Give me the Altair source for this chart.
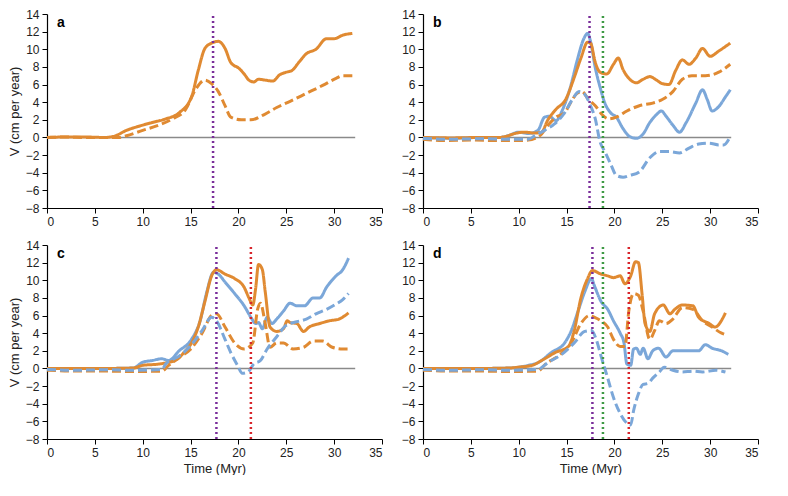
import altair as alt
import pandas as pd

ORANGE = "#E08A32"
BLUE = "#7BA7D9"
PURPLE = "#7A2E9A"
GREEN = "#3E9A44"
RED = "#D8262C"

# ---- panel a ----
a_os_t = [0, 2, 4, 6, 6.9, 8.3, 10, 11, 12.4, 13.8, 15.1, 15.8, 16.5, 17.2, 17.9, 18.6, 19.2, 20.1, 20.6, 21.1, 21.6, 22.1, 22.8, 23.6, 24.3, 25, 25.6, 26.3, 27.1, 28.1, 29.2, 30, 30.9, 31.9]
a_os_v = [0, 0.05, 0.05, 0, 0.1, 0.8, 1.4, 1.7, 2.1, 2.8, 4.6, 7.6, 10.1, 10.7, 10.9, 10.1, 8.5, 7.8, 7.2, 6.5, 6.3, 6.6, 6.5, 6.4, 7.1, 7.4, 7.6, 8.5, 9.5, 10.0, 11.2, 11.2, 11.6, 11.8]
a_od_t = [0, 2, 4, 6, 7.5, 8.3, 10, 11.7, 13.1, 14.5, 15.5, 16.5, 17.2, 17.9, 18.6, 19.2, 20.3, 21.3, 22.7, 24, 25.4, 27.1, 28.8, 30.2, 30.9, 31.9]
a_od_v = [0, 0.05, 0, 0, 0, 0.2, 0.8, 1.4, 2.1, 3.2, 5.4, 6.5, 6.1, 5.2, 3.6, 2.3, 2.0, 2.0, 2.6, 3.4, 4.1, 5.0, 5.9, 6.7, 7.0, 7.0]

# ---- panel b ----
b_os_t = [0, 3, 6, 8, 8.6, 9.6, 10.6, 11.7, 12.4, 13, 13.9, 14.9, 15.8, 16.5, 17.2, 17.5, 18, 18.5, 19.2, 19.9, 20.4, 20.9, 21.6, 22.3, 23, 23.7, 24.4, 25, 25.7, 26.4, 27.1, 27.8, 28.5, 29.2, 30, 30.9, 32.1]
b_os_v = [0, -0.05, 0, 0, 0.1, 0.45, 0.6, 0.5, 0.6, 1.9, 3.2, 4.3, 6.8, 9.0, 10.8, 10.7, 8.5, 7.4, 7.2, 8.3, 9.0, 7.7, 6.6, 6.2, 6.6, 6.9, 6.5, 6.1, 6.0, 7.6, 8.8, 8.3, 9.0, 10.1, 9.2, 9.8, 10.7]
b_bs_t = [0, 3, 6, 8, 8.9, 10, 11, 12, 12.7, 13.2, 13.9, 14.6, 15.4, 16.1, 16.8, 17.2, 17.5, 18, 18.5, 19, 19.6, 20.2, 20.9, 21.6, 22.3, 23, 23.7, 24.4, 24.9, 25.4, 26.1, 26.8, 27.5, 28.5, 29.2, 29.7, 30.2, 30.9, 31.6, 32.1]
b_bs_v = [0, -0.1, 0, 0, 0.2, 0.6, 0.45, 0.8, 2.3, 2.4, 1.9, 3.2, 5.7, 8.7, 11.2, 11.8, 10.9, 7.9, 5.7, 3.9, 2.8, 2.3, 1.0, 0.1, -0.1, 0.4, 1.7, 2.6, 3.0, 2.4, 1.4, 0.6, 1.7, 3.9, 5.4, 4.3, 3.0, 3.5, 4.6, 5.4]
b_od_t = [0, 2, 5, 8, 10, 11, 11.7, 12.4, 13, 13.9, 14.8, 15.4, 16.1, 16.6, 17.3, 18, 18.7, 19.4, 20.2, 21.3, 22.6, 24, 25, 26.1, 27.1, 28.1, 29.5, 30.9, 32.1]
b_od_v = [-0.2, -0.35, -0.3, -0.35, -0.35, -0.3, -0.1, 0.4, 1.3, 2.3, 2.8, 3.9, 5.0, 5.2, 4.3, 3.6, 2.6, 2.1, 2.3, 3.0, 3.6, 3.9, 4.3, 5.2, 6.6, 7.0, 7.0, 7.4, 8.3]
b_bd_t = [0, 3, 6, 9, 11, 11.7, 12.7, 13.7, 14.8, 15.6, 16.3, 16.8, 17.5, 18, 18.5, 19, 19.6, 20.2, 20.9, 21.6, 22.6, 23.7, 24.7, 25.7, 26.8, 27.8, 28.8, 29.9, 30.9, 31.4, 32.1]
b_bd_v = [-0.1, -0.2, -0.15, -0.2, -0.2, 0.2, 0.8, 1.5, 2.8, 4.3, 5.2, 5.0, 3.6, 2.1, -0.5, -1.6, -3.0, -4.3, -4.5, -4.3, -3.9, -2.3, -1.6, -1.6, -1.75, -1.2, -0.75, -0.65, -0.85, -0.85, 0.1]

# ---- panel c ----
c_os_t = [0, 3, 6, 9, 10, 11.7, 12.7, 13.4, 14.3, 15.1, 15.8, 16.5, 17.2, 17.7, 18.6, 19.6, 20.6, 21.1, 21.5, 21.8, 22.1, 22.5, 22.8, 23.3, 24, 24.7, 25.1, 25.4, 26.1, 26.8, 27.4, 28.5, 29.5, 30.5, 31.5]
c_os_v = [0, 0, 0, 0.05, 0.35, 0.5, 0.7, 0.9, 1.8, 2.9, 4.7, 7.6, 10.5, 11.2, 10.7, 10.2, 9.2, 8.0, 7.2, 9.1, 11.8, 11.2, 8.7, 4.7, 4.2, 4.5, 5.4, 5.2, 5.1, 4.2, 4.7, 5.1, 5.4, 5.6, 6.3]
c_bs_t = [0, 3, 6, 9, 10, 11, 12, 12.7, 13.8, 15.1, 16, 16.7, 17.4, 17.9, 18.6, 19.6, 20.6, 21.3, 21.8, 22.1, 22.5, 23, 23.5, 24, 24.7, 25.4, 26.1, 26.9, 27.8, 28.5, 29.2, 30.2, 30.9, 31.5]
c_bs_v = [0, 0, 0, 0.05, 0.7, 0.9, 1.1, 0.9, 2.0, 3.3, 5.4, 8.7, 10.9, 10.7, 9.8, 8.5, 7.1, 5.8, 5.1, 5.2, 4.5, 5.8, 5.1, 5.6, 6.5, 7.4, 7.1, 7.1, 8.0, 8.0, 9.2, 10.5, 11.2, 12.5]
c_od_t = [0, 3, 6, 9, 12, 12.7, 13.8, 15.1, 16.2, 17.2, 17.7, 18.6, 19.6, 20.6, 21.5, 22, 22.3, 22.8, 23.3, 24, 24.7, 25.7, 26.8, 27.8, 28.8, 29.8, 30.9, 31.5]
c_od_v = [-0.2, -0.3, -0.3, -0.35, -0.3, 0.35, 1.25, 2.3, 4.0, 6.0, 6.2, 4.7, 2.9, 2.2, 2.9, 6.7, 7.4, 5.1, 2.4, 2.9, 2.9, 2.2, 2.4, 3.1, 3.1, 2.4, 2.2, 2.2]
c_bd_t = [0, 3, 6, 9, 12, 12.4, 13.8, 15.1, 16.2, 17.2, 17.7, 18.6, 19.2, 19.9, 20.4, 21, 21.6, 22.3, 23, 24, 25, 26.1, 27.1, 28.1, 29.2, 30.2, 30.9, 31.5]
c_bd_v = [-0.1, -0.2, -0.15, -0.2, -0.1, 0.5, 1.4, 2.7, 4.3, 5.8, 5.4, 3.3, 1.8, 0.35, -0.55, -0.4, 0.5, 0.9, 2.2, 3.6, 4.9, 5.3, 5.6, 6.2, 6.7, 7.3, 7.8, 8.5]

# ---- panel d ----
d_os_t = [0, 3, 6, 9, 10, 11.4, 12.4, 13.8, 15.2, 15.8, 16.5, 17.2, 17.7, 18.6, 19.3, 19.9, 20.6, 21.1, 21.7, 22.2, 22.5, 22.9, 23.2, 23.7, 24.2, 25.1, 25.8, 26.3, 27.1, 28.2, 28.8, 29.9, 30.5, 31.6]
d_os_v = [0, 0, 0, 0.05, 0.15, 0.35, 0.9, 1.8, 2.5, 4.3, 8.0, 10.2, 11.1, 10.7, 10.5, 10.3, 10.5, 9.6, 10.5, 12.1, 12.0, 8.3, 5.1, 4.2, 6.2, 7.2, 6.2, 6.7, 7.2, 7.1, 5.8, 5.1, 4.7, 6.3]
d_bs_t = [0, 3, 6, 9, 11, 12.1, 13.4, 14.8, 15.5, 16.2, 16.9, 17.6, 17.9, 18.6, 19.3, 19.9, 20.6, 21, 21.3, 21.7, 22, 22.3, 22.7, 23, 23.5, 24, 24.6, 25.4, 26.1, 27.1, 28.2, 28.8, 29.5, 30.2, 31.2, 31.9]
d_bs_v = [0, 0, 0, 0.05, 0.35, 0.7, 1.8, 2.9, 4.3, 6.5, 8.7, 10.2, 9.4, 7.6, 6.7, 5.4, 4.0, 2.9, 0.5, 0.35, 2.2, 2.3, 1.6, 2.3, 1.1, 2.0, 2.3, 1.3, 2.0, 2.0, 2.0, 2.0, 2.7, 2.3, 2.0, 1.6]
d_od_t = [0, 3, 6, 9, 12, 12.8, 14.1, 15.5, 16.5, 17.4, 17.9, 18.6, 19.3, 19.9, 20.6, 21.1, 21.5, 22, 22.5, 23, 23.7, 24.2, 24.7, 25.4, 26.1, 27.1, 28.2, 29.2, 30.2, 31.2, 31.7]
d_od_v = [-0.2, -0.3, -0.3, -0.35, -0.3, 0.5, 1.4, 2.9, 5.1, 6.0, 5.8, 5.4, 4.7, 3.3, 2.5, 2.5, 6.5, 8.5, 8.3, 6.5, 3.3, 4.3, 5.4, 5.1, 5.6, 6.9, 6.7, 5.4, 4.7, 4.0, 3.8]
d_bd_t = [0, 3, 6, 9, 12, 13.1, 14.5, 15.8, 16.9, 17.6, 18.1, 18.6, 19.3, 19.9, 20.6, 21.3, 21.7, 22, 22.5, 23, 23.5, 24, 24.7, 25.2, 26.1, 27.1, 28.2, 29.2, 30.6, 31.6]
d_bd_v = [-0.1, -0.2, -0.15, -0.2, -0.1, 0.7, 1.6, 2.9, 4.2, 4.3, 3.3, 1.4, -1.1, -3.3, -5.1, -6.2, -6.4, -4.8, -2.9, -1.8, -1.7, -1.1, -0.4, 0.15, -0.2, -0.4, -0.3, -0.4, -0.2, -0.4]

# vertical marker lines (time, colour key)
a_marks = [(17.35, "purple")]
b_marks = [(17.4, "purple"), (18.8, "green")]
c_marks = [(17.7, "purple"), (21.3, "red")]
d_marks = [(17.7, "purple"), (18.8, "green"), (21.5, "red")]

zero_line_end = 32.2
x_ticks = [0, 5, 10, 15, 20, 25, 30, 35]
y_ticks = [-8, -6, -4, -2, 0, 2, 4, 6, 8, 10, 12, 14]

W, H = 335, 194


def series_df(items):
    rows = []
    for name, col, dash, ts, vs in items:
        for t, v in zip(ts, vs):
            rows.append({"t": t, "v": v, "series": name, "col": col, "dash": dash})
    return pd.DataFrame(rows)


def panel(letter, items, marks, ytitle, xtitle):
    df = series_df(items)
    xs = alt.Scale(domain=[0, 35], nice=False)
    ys = alt.Scale(domain=[-8, 14], nice=False)
    xax = alt.Axis(values=x_ticks, title="Time (Myr)" if xtitle else None, format="d", labelOverlap=False, titlePadding=4)
    yax = alt.Axis(values=y_ticks, title="V (cm per year)" if ytitle else None, format="d", labelOverlap=False)

    zero = alt.Chart(pd.DataFrame({"x": [0], "x2": [zero_line_end], "y": [0]})).mark_rule(
        color="#8a8a8a", strokeWidth=1.5
    ).encode(
        x=alt.X("x:Q", scale=xs, axis=xax),
        x2="x2:Q",
        y=alt.Y("y:Q", scale=ys, axis=yax),
    )

    lines = alt.Chart(df).mark_line(strokeWidth=3, interpolate="monotone").encode(
        x=alt.X("t:Q", scale=xs, axis=xax),
        y=alt.Y("v:Q", scale=ys, axis=yax),
        color=alt.Color("col:N", scale=alt.Scale(domain=["orange", "blue"], range=[ORANGE, BLUE]), legend=None),
        strokeDash=alt.StrokeDash("dash:N", scale=alt.Scale(domain=["solid", "dashed"], range=[[1, 0], [9, 4]]), legend=None),
        detail="series:N",
        order=alt.Order("t:Q"),
    )

    mdf = pd.DataFrame({"t": [m[0] for m in marks], "c": [m[1] for m in marks], "y1": [-8] * len(marks), "y2": [14] * len(marks)})
    vrules = alt.Chart(mdf).mark_rule(strokeWidth=2.5, strokeDash=[2, 3]).encode(
        x=alt.X("t:Q", scale=xs, axis=xax),
        y=alt.Y("y1:Q", scale=ys, axis=yax),
        y2="y2:Q",
        color=alt.Color("c:N", scale=alt.Scale(domain=["purple", "green", "red"], range=[PURPLE, GREEN, RED]), legend=None),
    )

    label = alt.Chart(pd.DataFrame({"l": [letter]})).mark_text(
        fontWeight="bold", fontSize=14, font="Liberation Sans", align="left", baseline="middle", color="black"
    ).encode(x=alt.value(10), y=alt.value(9), text="l:N")

    return alt.layer(zero, lines, vrules, label).resolve_scale(color="independent").properties(width=W, height=H)


pa = panel("a", [("a1", "orange", "solid", a_os_t, a_os_v), ("a2", "orange", "dashed", a_od_t, a_od_v)], a_marks, True, False)
pb = panel("b", [("b1", "blue", "solid", b_bs_t, b_bs_v), ("b2", "orange", "solid", b_os_t, b_os_v),
                 ("b3", "orange", "dashed", b_od_t, b_od_v), ("b4", "blue", "dashed", b_bd_t, b_bd_v)], b_marks, False, False)
pc = panel("c", [("c1", "blue", "solid", c_bs_t, c_bs_v), ("c2", "orange", "solid", c_os_t, c_os_v),
                 ("c3", "orange", "dashed", c_od_t, c_od_v), ("c4", "blue", "dashed", c_bd_t, c_bd_v)], c_marks, True, True)
pd_ = panel("d", [("d1", "blue", "solid", d_bs_t, d_bs_v), ("d2", "orange", "solid", d_os_t, d_os_v),
                  ("d3", "orange", "dashed", d_od_t, d_od_v), ("d4", "blue", "dashed", d_bd_t, d_bd_v)], d_marks, False, True)

chart = alt.vconcat(
    alt.hconcat(pa, pb, spacing=18),
    alt.hconcat(pc, pd_, spacing=18),
    spacing=12,
).properties(padding={"left": 0, "top": 0, "right": 0, "bottom": 0}).configure_view(stroke=None).configure_axis(
    grid=False,
    domainColor="black",
    domainWidth=1.2,
    tickColor="black",
    tickSize=5,
    labelFont="Liberation Sans",
    labelFontSize=12,
    labelColor="#222222",
    labelPadding=3,
    titleFont="Liberation Sans",
    titleFontSize=13,
    titleFontWeight="normal",
    titleColor="#222222",
).configure_axisX(labelAngle=0)

chart.save("out.html", embed_options={"renderer": "svg", "actions": False})
